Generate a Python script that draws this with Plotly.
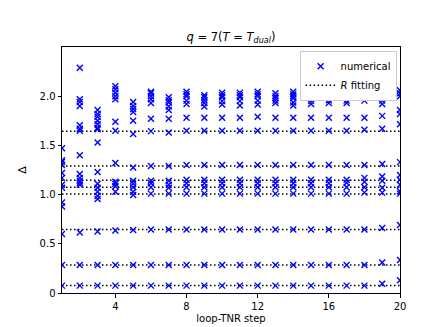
import plotly.graph_objects as go

# loop-TNR steps and the scaling dimensions found at each step
steps = list(range(1, 21))

deltas = [
    [0.075, 0.285, 0.60, 0.88, 0.92, 1.07, 1.10, 1.17, 1.22, 1.30, 1.33, 1.35, 1.47],
    [0.075, 0.285, 0.615, 1.10, 1.12, 1.14, 1.17, 1.21, 1.40, 1.65, 1.67, 1.705, 1.90, 1.94, 1.97, 2.29],
    [0.075, 0.285, 0.625, 0.955, 0.985, 1.03, 1.07, 1.11, 1.23, 1.53, 1.665, 1.68, 1.715, 1.75, 1.79, 1.82, 1.86],
    [0.075, 0.285, 0.635, 1.03, 1.085, 1.11, 1.13, 1.32, 1.65, 1.74, 1.97, 2.00, 2.035, 2.07, 2.10],
    [0.075, 0.285, 0.64, 0.995, 1.03, 1.075, 1.11, 1.14, 1.275, 1.615, 1.75, 1.84, 1.87, 1.90, 1.94],
    [0.075, 0.285, 0.645, 1.01, 1.075, 1.115, 1.14, 1.29, 1.645, 1.77, 1.93, 1.97, 2.00, 2.03, 2.045],
    [0.075, 0.285, 0.645, 1.01, 1.07, 1.10, 1.14, 1.29, 1.63, 1.77, 1.86, 1.895, 1.935, 1.96, 1.99],
    [0.075, 0.285, 0.645, 1.01, 1.075, 1.115, 1.15, 1.30, 1.65, 1.78, 1.92, 1.955, 2.00, 2.02, 2.045],
    [0.075, 0.285, 0.645, 1.01, 1.075, 1.115, 1.15, 1.30, 1.65, 1.78, 1.895, 1.93, 1.96, 1.99, 2.01],
    [0.075, 0.285, 0.645, 1.01, 1.075, 1.115, 1.15, 1.30, 1.65, 1.78, 1.915, 1.95, 1.99, 2.01, 2.035],
    [0.075, 0.285, 0.645, 1.01, 1.075, 1.115, 1.15, 1.30, 1.65, 1.78, 1.905, 1.95, 1.99, 2.01, 2.035],
    [0.075, 0.285, 0.645, 1.01, 1.075, 1.115, 1.15, 1.30, 1.65, 1.79, 1.915, 1.955, 2.00, 2.02, 2.045],
    [0.075, 0.285, 0.645, 1.01, 1.075, 1.115, 1.15, 1.30, 1.65, 1.78, 1.93, 1.955, 1.98, 2.00, 2.03],
    [0.075, 0.285, 0.645, 1.01, 1.075, 1.115, 1.15, 1.30, 1.65, 1.78, 1.905, 1.935, 1.98, 2.00, 2.02, 2.045],
    [0.075, 0.285, 0.645, 1.01, 1.075, 1.115, 1.15, 1.30, 1.65, 1.78, 1.92, 1.95, 1.98, 2.01, 2.035],
    [0.075, 0.285, 0.645, 1.01, 1.075, 1.115, 1.15, 1.30, 1.65, 1.78, 1.93, 1.96, 1.99, 2.02, 2.045],
    [0.075, 0.285, 0.645, 1.01, 1.075, 1.12, 1.15, 1.30, 1.65, 1.78, 1.93, 1.955, 1.99, 2.02, 2.045],
    [0.075, 0.285, 0.645, 1.02, 1.075, 1.13, 1.17, 1.30, 1.66, 1.78, 1.955, 1.99, 2.02, 2.045],
    [0.095, 0.31, 0.66, 1.02, 1.07, 1.14, 1.185, 1.31, 1.67, 1.80, 1.92, 1.955, 2.00, 2.02, 2.045],
    [0.13, 0.335, 0.69, 1.01, 1.035, 1.10, 1.15, 1.20, 1.33, 1.715, 1.82, 1.86, 2.00, 2.03, 2.06],
]

# fitted values (R fitting), drawn as horizontal dotted lines
r_fit = [0.075, 0.285, 0.645, 1.005, 1.075, 1.145, 1.29, 1.645]

x_ticks = [4, 8, 12, 16, 20]
y_ticks = [0, 0.5, 1.0, 1.5, 2.0]
y_labels = ["0", "0.5", "1.0", "1.5", "2.0"]

# flatten for the scatter
xs, ys = [], []
for s, vals in zip(steps, deltas):
    for v in vals:
        xs.append(s)
        ys.append(v)

# dotted lines across the full step range
lx, ly = [], []
for r in r_fit:
    lx += [steps[0], steps[-1], None]
    ly += [r, r, None]

fig = go.Figure()

fig.add_trace(go.Scatter(
    x=lx, y=ly,
    mode='lines',
    name='<i>R</i> fitting',
    line=dict(color='black', width=1.5, dash='1.5px,2.5px'),
))

fig.add_trace(go.Scatter(
    x=xs, y=ys,
    mode='markers',
    name='numerical',
    marker=dict(symbol='x-thin', size=6, line=dict(color='blue', width=1.4), color='blue'),
))

axis_style = dict(
    showgrid=False, zeroline=False,
    showline=True, linecolor='black', linewidth=1, mirror=True,
    ticks='outside', ticklen=3.5, tickwidth=1, tickcolor='black',
    tickfont=dict(size=10, color='black'),
)

fig.update_layout(
    width=436, height=327,
    margin=dict(l=54, r=44, t=39, b=36),
    paper_bgcolor='white', plot_bgcolor='white',
    font=dict(family='DejaVu Sans', size=10, color='black'),
    title=dict(
        text='<i>q</i> = 7(<i>T</i> = <i>T</i><sub><i>dual</i></sub>)',
        x=0.5, xref='paper', xanchor='center',
        y=1 - 29 / 327, yanchor='middle',
        font=dict(size=11.5),
    ),
    legend=dict(
        x=0.99, y=0.985, xanchor='right', yanchor='top',
        bgcolor='white', bordercolor='#cccccc', borderwidth=1,
        font=dict(size=10), traceorder='reversed',
        itemwidth=30, tracegroupgap=0,
    ),
    xaxis=dict(range=[1, 20], tickvals=x_ticks,
               title=dict(text='loop-TNR step', standoff=4, font=dict(size=10)),
               **axis_style),
    yaxis=dict(range=[0, 2.5], tickvals=y_ticks, ticktext=y_labels,
               title=dict(text='Δ', standoff=10, font=dict(size=11)),
               **axis_style),
)

fig.write_html("out.html")
